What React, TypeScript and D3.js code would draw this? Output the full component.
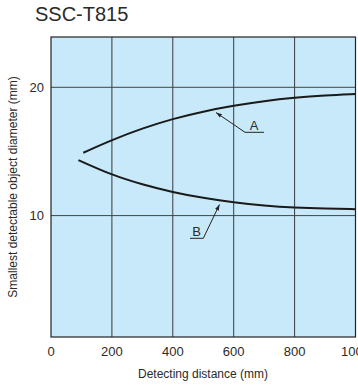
import React from "react";
import * as d3 from "d3";

const xTicks = [0, 200, 400, 600, 800, 1000];
const yTicks = [10, 20];
const curveAx = [106, 200, 300, 400, 500, 600, 700, 800, 900, 1000];
const curveAy = [14.9, 15.9, 16.8, 17.55, 18.12, 18.57, 18.93, 19.19, 19.37, 19.48];
const curveBx = [90, 200, 300, 400, 500, 600, 700, 800, 900, 1000];
const curveBy = [14.33, 13.16, 12.42, 11.82, 11.37, 11.02, 10.78, 10.62, 10.54, 10.5];

export default function App() {
  const W = 358, H = 390;
  const left = 51, right = 355.5, top = 37, bottom = 337;
  const x = d3.scaleLinear().domain([0, 1000]).range([left, right]);
  const y = d3.scaleLinear().domain([10, 20]).range([215.6, 87.3]);
  const line = d3.line<[number, number]>().x(d => x(d[0])).y(d => y(d[1])).curve(d3.curveBasis);
  const A = curveAx.map((v, i) => [v, curveAy[i]] as [number, number]);
  const B = curveBx.map((v, i) => [v, curveBy[i]] as [number, number]);
  const font = "'Liberation Sans', Arial, sans-serif";
  const tc = "#2a2a2a";
  return (
    <svg width={W} height={H} style={{ position: "absolute", left: 0, top: 0 }} fontFamily={font}>
      <defs>
        <marker id="arr" viewBox="0 0 10 10" refX="10" refY="5" markerWidth="6" markerHeight="6" orient="auto-start-reverse">
          <path d="M0,1.5 L10,5 L0,8.5 z" fill="#222" />
        </marker>
      </defs>
      <text x={35} y={21} fontSize={20} fill={tc}>SSC-T815</text>
      <rect x={left} y={top} width={right - left} height={bottom - top} fill="#c8e9f9" />
      {xTicks.slice(1, -1).map(t => (
        <line key={t} x1={x(t)} x2={x(t)} y1={top} y2={bottom} stroke="#3a3a3a" strokeWidth={1} />
      ))}
      {yTicks.map(t => (
        <line key={t} x1={left} x2={right} y1={y(t)} y2={y(t)} stroke="#444" strokeWidth={1} />
      ))}
      <rect x={left} y={top} width={right - left} height={bottom - top} fill="none" stroke="#222" strokeWidth={1.2} />
      <path d={line(A) || ""} fill="none" stroke="#1a1a1a" strokeWidth={2} />
      <path d={line(B) || ""} fill="none" stroke="#1a1a1a" strokeWidth={2} />
      {/* annotation A */}
      <path d="M245,132.3 L216,112.5" fill="none" stroke="#222" strokeWidth={1} markerEnd="url(#arr)" />
      <line x1={245} x2={264} y1={132.3} y2={132.3} stroke="#222" strokeWidth={1} />
      <text x={254} y={130} fontSize={13} textAnchor="middle" fill={tc}>A</text>
      {/* annotation B */}
      <path d="M203.3,238.3 L219.5,204.5" fill="none" stroke="#222" strokeWidth={1} markerEnd="url(#arr)" />
      <line x1={190} x2={203.3} y1={238.3} y2={238.3} stroke="#222" strokeWidth={1} />
      <text x={196.5} y={236} fontSize={13} textAnchor="middle" fill={tc}>B</text>
      {yTicks.map(t => (
        <text key={t} x={44} y={y(t)} dy="0.36em" fontSize={13} textAnchor="end" fill={tc}>{t}</text>
      ))}
      {xTicks.map(t => (
        <text key={t} x={x(t)} y={356} fontSize={13} textAnchor="middle" fill={tc}>{t}</text>
      ))}
      <text x={203} y={378} fontSize={12} textAnchor="middle" fill={tc}>Detecting distance (mm)</text>
      <text transform={`translate(17,187) rotate(-90)`} fontSize={12} textAnchor="middle" fill={tc}>Smallest detectable object diameter (mm)</text>
    </svg>
  );
}
